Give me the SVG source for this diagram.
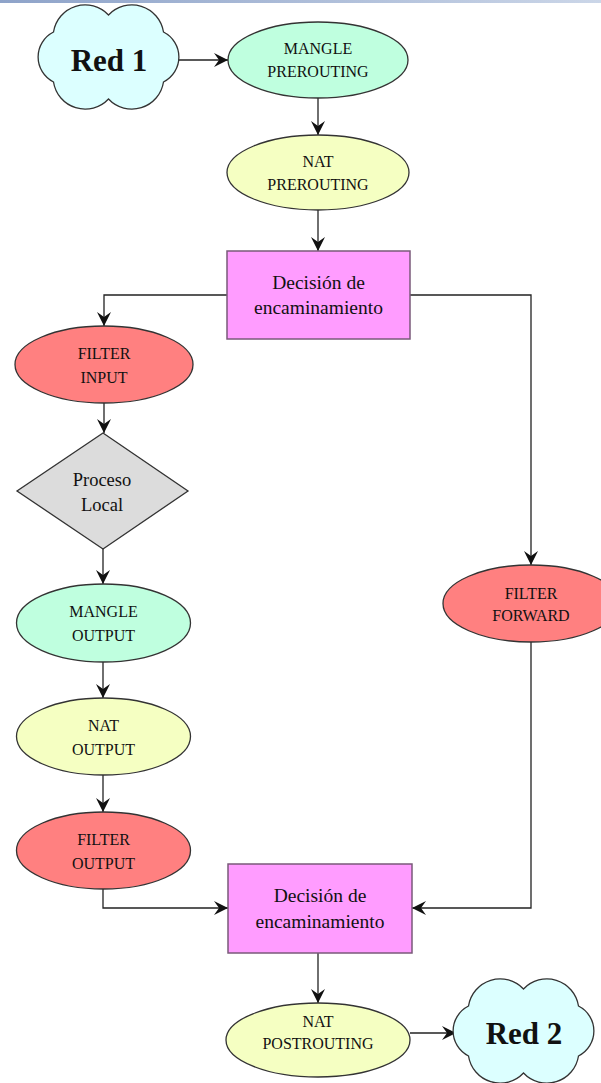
<svg xmlns="http://www.w3.org/2000/svg" width="601" height="1083" viewBox="0 0 601 1083">
  <defs>
    <linearGradient id="topbar" x1="0" y1="0" x2="1" y2="0">
      <stop offset="0" stop-color="#8ea3c9"/>
      <stop offset="1" stop-color="#cbd6e8"/>
    </linearGradient>
    <marker id="arr" viewBox="-15 -8 16 16" refX="0" refY="0" markerWidth="16" markerHeight="16" markerUnits="userSpaceOnUse" orient="auto">
      <path d="M-14,-7 L0,0 L-14,7 L-9,0 Z" fill="#111"/>
    </marker>
    <path id="cloud" d="M-55,-25 A32,32 0 0 1 0,-42 A32,32 0 0 1 55,-25 A28,28 0 0 1 55,25 A32,32 0 0 1 0,42 A32,32 0 0 1 -55,25 A28,28 0 0 1 -55,-25 Z"/>
  </defs>
  <style>
    .shape { stroke: #333; stroke-width: 1.3; }
    .cloud { fill: #dcffff; }
    .mangle { fill: #bfffdf; }
    .nat { fill: #f5ffc2; }
    .filter { fill: #ff8080; }
    .dec { fill: #ff9cff; stroke: #7a5a7a; stroke-width: 1.5; }
    .proc { fill: #dcdcdc; }
    .lbl { font-family: "Liberation Serif", "Times New Roman", serif; font-size: 16px; fill: #111; text-anchor: middle; }
    .lbl2 { font-family: "Liberation Serif", "Times New Roman", serif; font-size: 19.5px; fill: #111; text-anchor: middle; }
    .big { font-family: "Liberation Serif", "Times New Roman", serif; font-size: 31px; font-weight: bold; fill: #111; text-anchor: middle; }
    .conn { fill: none; stroke: #222; stroke-width: 1.3; marker-end: url(#arr); }
  </style>

  <rect x="0" y="0" width="601" height="3" fill="url(#topbar)"/>

  <g id="connectors">
    <path class="conn" d="M178,60 L228,60"/>
    <path class="conn" d="M318,98 L318,135"/>
    <path class="conn" d="M318,210 L318,251"/>
    <path class="conn" d="M227,295 L104,295 L104,326"/>
    <path class="conn" d="M410,295 L531,295 L531,565"/>
    <path class="conn" d="M104,403 L104,433"/>
    <path class="conn" d="M103,549 L103,584"/>
    <path class="conn" d="M103,662 L103,698"/>
    <path class="conn" d="M103,775 L103,812"/>
    <path class="conn" d="M103,889 L103,908 L228,908"/>
    <path class="conn" d="M531,642 L531,908 L412,908"/>
    <path class="conn" d="M318,953 L318,1003"/>
    <path class="conn" d="M410,1033 L456,1033"/>
  </g>

  <g id="red1">
    <use href="#cloud" transform="translate(108.5,57)" class="shape cloud"/>
    <text class="big" x="109" y="71">Red 1</text>
  </g>

  <g id="mangle-prerouting">
    <ellipse class="shape mangle" cx="318" cy="60" rx="90" ry="38"/>
    <text class="lbl" x="318" y="54">MANGLE</text>
    <text class="lbl" x="318" y="77">PREROUTING</text>
  </g>

  <g id="nat-prerouting">
    <ellipse class="shape nat" cx="318" cy="172.5" rx="91" ry="37.5"/>
    <text class="lbl" x="318" y="167">NAT</text>
    <text class="lbl" x="318" y="190">PREROUTING</text>
  </g>

  <g id="decision-1">
    <rect class="dec" x="227" y="251" width="183" height="88"/>
    <text class="lbl2" x="318.5" y="289">Decisión de</text>
    <text class="lbl2" x="318.5" y="314">encaminamiento</text>
  </g>

  <g id="filter-input">
    <ellipse class="shape filter" cx="104" cy="364.5" rx="89" ry="38.5"/>
    <text class="lbl" x="104" y="359">FILTER</text>
    <text class="lbl" x="104" y="383">INPUT</text>
  </g>

  <g id="proceso-local">
    <polygon class="shape proc" points="103,433 188,491 103,549 17,491"/>
    <text class="lbl2" x="102" y="486" style="font-size:18.5px">Proceso</text>
    <text class="lbl2" x="102" y="511" style="font-size:18.5px">Local</text>
  </g>

  <g id="mangle-output">
    <ellipse class="shape mangle" cx="103.5" cy="623" rx="87" ry="39"/>
    <text class="lbl" x="103.5" y="617">MANGLE</text>
    <text class="lbl" x="103.5" y="641">OUTPUT</text>
  </g>

  <g id="nat-output">
    <ellipse class="shape nat" cx="103.5" cy="736.5" rx="87" ry="38.5"/>
    <text class="lbl" x="103.5" y="731">NAT</text>
    <text class="lbl" x="103.5" y="755">OUTPUT</text>
  </g>

  <g id="filter-output">
    <ellipse class="shape filter" cx="103.5" cy="850.5" rx="87" ry="38.5"/>
    <text class="lbl" x="103.5" y="845">FILTER</text>
    <text class="lbl" x="103.5" y="869">OUTPUT</text>
  </g>

  <g id="filter-forward">
    <ellipse class="shape filter" cx="531" cy="603.5" rx="88" ry="38.5"/>
    <text class="lbl" x="531" y="599">FILTER</text>
    <text class="lbl" x="531" y="621">FORWARD</text>
  </g>

  <g id="decision-2">
    <rect class="dec" x="228" y="864" width="184" height="89"/>
    <text class="lbl2" x="320" y="902">Decisión de</text>
    <text class="lbl2" x="320" y="928">encaminamiento</text>
  </g>

  <g id="nat-postrouting">
    <ellipse class="shape nat" cx="318" cy="1040" rx="92" ry="37"/>
    <text class="lbl" x="318" y="1027">NAT</text>
    <text class="lbl" x="318" y="1049">POSTROUTING</text>
  </g>

  <g id="red2">
    <use href="#cloud" transform="translate(523.5,1031)" class="shape cloud"/>
    <text class="big" x="524" y="1044">Red 2</text>
  </g>
</svg>
